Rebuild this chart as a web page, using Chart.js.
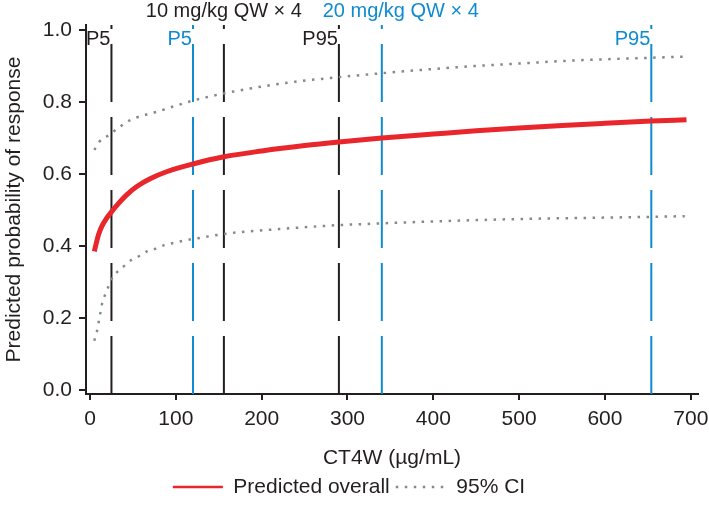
<!DOCTYPE html>
<html lang="en">
<head>
    <meta charset="UTF-8">
    <title>Predicted probability of response</title>
    <script src="https://cdn.jsdelivr.net/npm/chart.js"></script>
    <style>
        html, body { margin: 0; padding: 0; background: #fff; }
        #wrap { width: 709px; height: 510px; }
    </style>
</head>
<body>
    <div id="wrap"><canvas id="respChart" width="709" height="510"></canvas></div>
    <script>
        // ticks
        const xTicks = [0, 100, 200, 300, 400, 500, 600, 700];
        const yTicks = [0, 0.2, 0.4, 0.6, 0.8, 1.0];

        // predicted overall curve
        const predConc = [5, 7, 10, 14, 19, 25, 33, 43, 55, 70, 90, 120, 156, 200, 250, 290, 340, 400, 450, 500, 550, 600, 654, 695];
        const predProb = [0.385, 0.405, 0.432, 0.456, 0.476, 0.495, 0.518, 0.543, 0.566, 0.587, 0.607, 0.628, 0.648, 0.664, 0.679, 0.689, 0.70, 0.711, 0.72, 0.728, 0.735, 0.741, 0.747, 0.751];

        // 95% CI
        const upperConc = [5, 11, 20, 29, 47, 78, 120, 156, 225, 289, 340, 435, 500, 560, 654, 693];
        const upperProb = [0.667, 0.69, 0.705, 0.721, 0.75, 0.773, 0.804, 0.824, 0.852, 0.869, 0.88, 0.898, 0.907, 0.915, 0.923, 0.926];
        const lowerConc = [5, 8, 10, 12, 14, 17, 21, 25, 32, 40, 48, 58, 67, 77, 87, 98, 109, 119, 161, 220, 289, 340, 435, 520, 600, 654, 693];
        const lowerProb = [0.137, 0.162, 0.187, 0.213, 0.239, 0.261, 0.285, 0.307, 0.329, 0.345, 0.361, 0.373, 0.386, 0.393, 0.403, 0.409, 0.415, 0.419, 0.435, 0.447, 0.458, 0.463, 0.471, 0.476, 0.479, 0.481, 0.483];

        // exposure percentiles (P5, median, P95) per dose
        const dose10Conc = [25, 156, 290];
        const dose20Conc = [120, 340, 654];
        const pctLabels = ['P5', '', 'P95'];
        const doseLabels = ['10 mg/kg QW \u00d7 4', '20 mg/kg QW \u00d7 4'];

        const BLACK = '#231f20';
        const BLUE = '#0f8bcf';
        const RED = '#e8262b';
        const GREY = '#85898d';
        const yMin = -0.011, yMax = 1.014;

        Chart.defaults.font.family = '"Liberation Sans", Arial, Helvetica, sans-serif';
        Chart.defaults.color = BLACK;

        function pts(xs, ys) {
            return xs.map((x, i) => ({ x: x, y: ys[i] }));
        }

        function vline(x, color) {
            return {
                label: '',
                data: [{ x: x, y: yMin }, { x: x, y: yMax }],
                borderColor: color,
                borderWidth: 2,
                borderDash: [58, 15],
                pointRadius: 0
            };
        }

        const datasets = [
            {
                label: 'Predicted overall',
                data: pts(predConc, predProb),
                borderColor: RED,
                borderWidth: 5,
                pointRadius: 0,
                cubicInterpolationMode: 'monotone'
            },
            {
                label: '95% CI',
                data: pts(upperConc, upperProb),
                borderColor: GREY,
                borderWidth: 2.5,
                borderDash: [2.5, 6.5],
                pointRadius: 0,
                cubicInterpolationMode: 'monotone'
            },
            {
                label: '',
                data: pts(lowerConc, lowerProb),
                borderColor: GREY,
                borderWidth: 2.5,
                borderDash: [2.5, 6.5],
                pointRadius: 0,
                cubicInterpolationMode: 'monotone'
            }
        ];
        dose10Conc.forEach(x => datasets.push(vline(x, BLACK)));
        dose20Conc.forEach(x => datasets.push(vline(x, BLUE)));

        // text labels above the percentile lines
        const labelPlugin = {
            id: 'pctText',
            afterDatasetsDraw(chart) {
                const ctx = chart.ctx;
                const xs = chart.scales.x;
                ctx.save();
                ctx.font = '20px "Liberation Sans", Arial, sans-serif';
                ctx.textBaseline = 'alphabetic';
                [[dose10Conc, BLACK, 0], [dose20Conc, BLUE, 19]].forEach(([conc, color, shift], d) => {
                    ctx.fillStyle = color;
                    ctx.textAlign = 'right';
                    conc.forEach((c, i) => {
                        if (pctLabels[i]) ctx.fillText(pctLabels[i], xs.getPixelForValue(c) - 1, 45);
                    });
                    ctx.textAlign = 'center';
                    ctx.fillText(doseLabels[d], xs.getPixelForValue(conc[1]) + shift, 17);
                });
                ctx.restore();
            }
        };

        new Chart(document.getElementById('respChart'), {
            type: 'line',
            data: { datasets },
            options: {
                responsive: false,
                animation: false,
                layout: { padding: { top: 25, right: 11, left: 0, bottom: 2.5 } },
                scales: {
                    x: {
                        type: 'linear',
                        min: -4.66,
                        max: 708.4,
                        afterBuildTicks: s => { s.ticks = xTicks.map(v => ({ value: v })); },
                        afterFit: s => { s.height = 76.5; s.paddingLeft = 0; s.paddingRight = 0; },
                        border: { display: true, color: BLACK, width: 2 },
                        grid: { drawOnChartArea: false, drawTicks: true, tickLength: 6, color: BLACK, lineWidth: 2 },
                        ticks: { font: { size: 21 }, color: BLACK, padding: 7, maxRotation: 0, autoSkip: false },
                        title: { display: true, text: 'CT4W (\u00b5g/mL)', font: { size: 21 }, color: BLACK, padding: { top: 4, bottom: 0 } }
                    },
                    y: {
                        min: yMin,
                        max: yMax,
                        afterBuildTicks: s => { s.ticks = yTicks.map(v => ({ value: v })); },
                        afterFit: s => { s.width = 86; s.paddingTop = 0; s.paddingBottom = 0; },
                        border: { display: true, color: BLACK, width: 2 },
                        grid: { drawOnChartArea: false, drawTicks: true, tickLength: 7, color: BLACK, lineWidth: 2 },
                        ticks: { font: { size: 21 }, color: BLACK, padding: 7, callback: v => v.toFixed(1) },
                        title: { display: true, text: 'Predicted probability of response', font: { size: 21 }, color: BLACK, padding: { top: 2, bottom: 4 } }
                    }
                },
                plugins: {
                    tooltip: { enabled: false },
                    legend: {
                        position: 'bottom',
                        labels: {
                            font: { size: 21 },
                            color: BLACK,
                            padding: 6,
                            usePointStyle: true,
                            pointStyle: 'line',
                            pointStyleWidth: 50,
                            filter: item => item.text !== '',
                            generateLabels: chart => {
                                const items = Chart.defaults.plugins.legend.labels.generateLabels(chart);
                                items.forEach(it => {
                                    const ds = chart.data.datasets[it.datasetIndex];
                                    it.strokeStyle = ds.borderColor;
                                    it.lineDash = ds.borderDash || [];
                                    it.lineWidth = 2.5;
                                });
                                return items;
                            }
                        }
                    }
                }
            },
            plugins: [labelPlugin]
        });
    </script>
</body>
</html>
